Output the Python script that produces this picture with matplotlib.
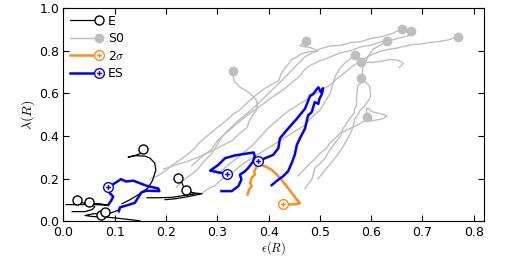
import numpy as np
import matplotlib
matplotlib.use("Agg")
import matplotlib.pyplot as plt
from matplotlib.path import Path
from matplotlib.legend_handler import HandlerLine2D

plt.rcParams["mathtext.fontset"] = "cm"
plt.rcParams["font.size"] = 9

# ---- S0 tracks (marker at last point) ----
s0_x = [
    [0.195, 0.215, 0.240, 0.262, 0.290, 0.305, 0.330, 0.342, 0.358, 0.362, 0.370, 0.378, 0.377, 0.370, 0.360, 0.345, 0.334, 0.331, 0.330],
    [0.170, 0.185, 0.200, 0.212, 0.222, 0.240, 0.255, 0.262, 0.280, 0.300, 0.312, 0.330, 0.345, 0.360, 0.372, 0.390, 0.405, 0.420, 0.424, 0.430, 0.436, 0.441, 0.445, 0.455, 0.461, 0.470, 0.481, 0.496, 0.488, 0.481, 0.470, 0.461, 0.473],
    [0.220, 0.235, 0.260, 0.275, 0.290, 0.300, 0.310, 0.322, 0.340, 0.355, 0.370, 0.385, 0.400, 0.415, 0.430, 0.440, 0.450, 0.460, 0.470, 0.485, 0.500, 0.520, 0.540, 0.560, 0.580, 0.600, 0.620, 0.641, 0.660],
    [0.250, 0.268, 0.290, 0.300, 0.320, 0.340, 0.360, 0.378, 0.400, 0.415, 0.430, 0.445, 0.460, 0.470, 0.480, 0.500, 0.520, 0.540, 0.560, 0.580, 0.600, 0.620, 0.640, 0.660, 0.676, 0.677],
    [0.471, 0.478, 0.485, 0.490, 0.500, 0.510, 0.518, 0.529, 0.540, 0.545, 0.550, 0.558, 0.566, 0.568, 0.572, 0.571, 0.574, 0.580, 0.582, 0.584, 0.590, 0.594, 0.603, 0.615, 0.631],
    [0.300, 0.320, 0.340, 0.355, 0.370, 0.385, 0.400, 0.420, 0.440, 0.460, 0.480, 0.500, 0.520, 0.535, 0.550, 0.565, 0.580, 0.600, 0.617, 0.632, 0.650, 0.665, 0.681, 0.695, 0.714, 0.734, 0.753, 0.769],
    [0.266, 0.280, 0.295, 0.310, 0.330, 0.350, 0.370, 0.390, 0.410, 0.430, 0.450, 0.470, 0.485, 0.500, 0.510, 0.520, 0.525, 0.530, 0.540, 0.550, 0.568],
    [0.655, 0.663, 0.652, 0.636, 0.620, 0.601, 0.580],
    [0.496, 0.503, 0.510, 0.520, 0.529, 0.540, 0.549, 0.556, 0.562, 0.566, 0.568, 0.574, 0.578, 0.585, 0.590, 0.596, 0.599, 0.598, 0.597, 0.590, 0.580],
    [0.457, 0.470, 0.481, 0.490, 0.500, 0.512, 0.519, 0.530, 0.539, 0.558, 0.572, 0.584, 0.603, 0.623, 0.631, 0.617, 0.601, 0.597, 0.591, 0.591],
]
s0_y = [
    [0.245, 0.262, 0.280, 0.300, 0.330, 0.350, 0.380, 0.410, 0.440, 0.470, 0.500, 0.528, 0.565, 0.585, 0.606, 0.628, 0.653, 0.680, 0.704],
    [0.200, 0.215, 0.240, 0.262, 0.280, 0.310, 0.340, 0.362, 0.400, 0.440, 0.462, 0.500, 0.525, 0.560, 0.585, 0.620, 0.640, 0.660, 0.690, 0.712, 0.730, 0.745, 0.759, 0.770, 0.782, 0.790, 0.796, 0.796, 0.808, 0.815, 0.818, 0.824, 0.843],
    [0.160, 0.195, 0.240, 0.285, 0.320, 0.360, 0.400, 0.430, 0.470, 0.500, 0.530, 0.565, 0.600, 0.635, 0.670, 0.695, 0.720, 0.745, 0.770, 0.790, 0.808, 0.822, 0.824, 0.838, 0.842, 0.857, 0.865, 0.880, 0.903],
    [0.260, 0.300, 0.340, 0.378, 0.420, 0.462, 0.500, 0.530, 0.570, 0.595, 0.620, 0.650, 0.680, 0.710, 0.730, 0.752, 0.770, 0.790, 0.800, 0.818, 0.826, 0.842, 0.850, 0.862, 0.872, 0.894],
    [0.153, 0.178, 0.200, 0.250, 0.270, 0.296, 0.330, 0.366, 0.400, 0.435, 0.452, 0.481, 0.505, 0.528, 0.550, 0.574, 0.634, 0.650, 0.671, 0.727, 0.750, 0.773, 0.806, 0.822, 0.843],
    [0.220, 0.262, 0.300, 0.330, 0.360, 0.400, 0.440, 0.480, 0.520, 0.550, 0.580, 0.610, 0.640, 0.672, 0.700, 0.730, 0.752, 0.780, 0.796, 0.805, 0.812, 0.820, 0.829, 0.830, 0.838, 0.843, 0.852, 0.866],
    [0.125, 0.150, 0.167, 0.200, 0.230, 0.270, 0.300, 0.330, 0.360, 0.390, 0.420, 0.450, 0.490, 0.520, 0.560, 0.600, 0.640, 0.680, 0.720, 0.745, 0.778],
    [0.722, 0.741, 0.755, 0.759, 0.750, 0.745, 0.745],
    [0.199, 0.218, 0.241, 0.268, 0.296, 0.330, 0.366, 0.395, 0.426, 0.455, 0.481, 0.500, 0.519, 0.535, 0.551, 0.570, 0.588, 0.610, 0.634, 0.650, 0.671],
    [0.213, 0.245, 0.273, 0.292, 0.319, 0.340, 0.366, 0.390, 0.412, 0.435, 0.449, 0.468, 0.472, 0.481, 0.495, 0.505, 0.514, 0.528, 0.528, 0.491],
]

# ---- E tracks (marker at last point) ----
e_x = [
    [0.005, 0.032, 0.061, 0.085, 0.071, 0.042, 0.032, 0.026],
    [0.017, 0.042, 0.056, 0.061, 0.056, 0.050],
    [0.149, 0.110, 0.081, 0.056, 0.042, 0.061, 0.073],
    [0.110, 0.095, 0.087, 0.081],
    [0.114, 0.130, 0.149, 0.165, 0.174, 0.180, 0.178, 0.169, 0.159, 0.139, 0.126, 0.141, 0.151, 0.155],
    [0.198, 0.217, 0.243, 0.270, 0.250, 0.235, 0.231, 0.223],
    [0.163, 0.188, 0.212, 0.231, 0.247, 0.258, 0.247, 0.239],
]
e_y = [
    [0.079, 0.079, 0.079, 0.076, 0.083, 0.083, 0.093, 0.099],
    [0.046, 0.046, 0.056, 0.069, 0.079, 0.093],
    [0.003, 0.014, 0.021, 0.023, 0.028, 0.037, 0.032],
    [0.056, 0.042, 0.037, 0.046],
    [0.083, 0.102, 0.130, 0.157, 0.194, 0.241, 0.273, 0.296, 0.306, 0.308, 0.301, 0.310, 0.319, 0.338],
    [0.102, 0.106, 0.116, 0.130, 0.134, 0.157, 0.181, 0.204],
    [0.111, 0.111, 0.113, 0.120, 0.125, 0.130, 0.139, 0.148],
]

# ---- 2 sigma track ----
sig_x = [0.359, 0.362, 0.367, 0.364, 0.367, 0.373, 0.372, 0.377, 0.380, 0.393, 0.406, 0.416,
         0.425, 0.435, 0.445, 0.455, 0.461, 0.451, 0.438, 0.428]
sig_y = [0.126, 0.150, 0.165, 0.181, 0.204, 0.219, 0.235, 0.258, 0.269, 0.258, 0.242, 0.219,
         0.196, 0.165, 0.134, 0.103, 0.085, 0.080, 0.080, 0.080]

# ---- ES tracks ----
es_x = [
    [0.087, 0.093, 0.097, 0.089, 0.086, 0.094, 0.104, 0.112, 0.122, 0.136, 0.162, 0.185, 0.187,
     0.162, 0.152, 0.146, 0.139, 0.126, 0.110, 0.108],
    [0.308, 0.328, 0.341, 0.347, 0.344, 0.354, 0.360, 0.369, 0.373, 0.371, 0.360, 0.334, 0.315,
     0.302, 0.286, 0.318],
    [0.406, 0.419, 0.428, 0.438, 0.445, 0.451, 0.455, 0.461, 0.471, 0.477, 0.484, 0.490, 0.497,
     0.499, 0.504, 0.506, 0.502, 0.497, 0.494, 0.487, 0.481, 0.471, 0.455, 0.438, 0.422, 0.419,
     0.409, 0.393, 0.380],
]
es_y = [
    [0.077, 0.097, 0.116, 0.136, 0.159, 0.170, 0.185, 0.198, 0.187, 0.191, 0.167, 0.154, 0.142,
     0.144, 0.136, 0.113, 0.087, 0.077, 0.066, 0.048],
    [0.142, 0.142, 0.165, 0.196, 0.219, 0.235, 0.250, 0.278, 0.304, 0.323, 0.319, 0.309, 0.296,
     0.265, 0.238, 0.222],
    [0.170, 0.196, 0.211, 0.235, 0.273, 0.312, 0.358, 0.389, 0.435, 0.497, 0.512, 0.559, 0.551,
     0.574, 0.597, 0.624, 0.605, 0.628, 0.620, 0.597, 0.589, 0.528, 0.481, 0.435, 0.389, 0.343,
     0.312, 0.296, 0.284],
]
es_mark = [4, -1, -1]

x_ticks = [0.0, 0.1, 0.2, 0.3, 0.4, 0.5, 0.6, 0.7, 0.8]
y_ticks = [0.0, 0.2, 0.4, 0.6, 0.8, 1.0]

gray = "#bebebe"
orange = "#ff8c1a"
blue = "#0000ff"

# circle with a plus inside
oplus = Path.make_compound_path(Path.unit_circle(),
                                Path([[-0.5, 0.0], [0.5, 0.0]]),
                                Path([[0.0, -0.5], [0.0, 0.5]]))


class EndMarker(HandlerLine2D):
    # legend marker sits at the right end of the line
    def create_artists(self, *args, **kwargs):
        arts = super().create_artists(*args, **kwargs)
        for a in arts:
            a.set_markevery([-1])
        return arts


fig = plt.figure(figsize=(5.1, 2.56), dpi=100)
ax = fig.add_axes([0.1245, 0.135, 0.8245, 0.834])

handles = []
for i, (xs, ys) in enumerate(zip(e_x, e_y)):
    l, = ax.plot(xs, ys, color="black", lw=0.9, marker="o", markevery=[-1],
                 ms=6.5, mfc="white", mec="black", mew=1.0, zorder=3)
    if i == 0:
        handles.append(l)
for i, (xs, ys) in enumerate(zip(s0_x, s0_y)):
    l, = ax.plot(xs, ys, color=gray, lw=1.0, marker="o", markevery=[-1],
                 ms=6, mfc=gray, mec=gray, zorder=1)
    if i == 0:
        handles.append(l)
l, = ax.plot(sig_x, sig_y, color=orange, lw=1.8, marker=oplus, markevery=[-1],
             ms=7, mfc="white", mec=orange, mew=1.0, zorder=4)
handles.append(l)
for i, (xs, ys) in enumerate(zip(es_x, es_y)):
    l, = ax.plot(xs, ys, color=blue, lw=1.8, marker=oplus, markevery=[es_mark[i]],
                 ms=7, mfc="white", mec=blue, mew=1.0, zorder=5)
    if i == 0:
        handles.append(l)

ax.set_xlim(0, 0.82)
ax.set_ylim(0, 1.0)
ax.set_xticks(x_ticks)
ax.set_yticks(y_ticks)
ax.set_xticklabels(["%.1f" % t for t in x_ticks])
ax.set_yticklabels(["%.1f" % t for t in y_ticks])
ax.tick_params(direction="in", top=True, right=True, length=4, labelsize=9, pad=3)
ax.tick_params(axis="x", pad=3.5)
ax.set_xlabel(r"$\epsilon(R)$", fontsize=9, labelpad=0)
ax.set_ylabel(r"$\lambda(R)$", fontsize=10, labelpad=2)

ax.legend(handles, ["E", "S0", r"2$\sigma$", "ES"], loc="upper left", frameon=False,
          fontsize=9, handlelength=2.3, handletextpad=0.7, labelspacing=0.35,
          borderaxespad=0.15, handler_map={matplotlib.lines.Line2D: EndMarker()})

fig.savefig("out.png", dpi=100)
